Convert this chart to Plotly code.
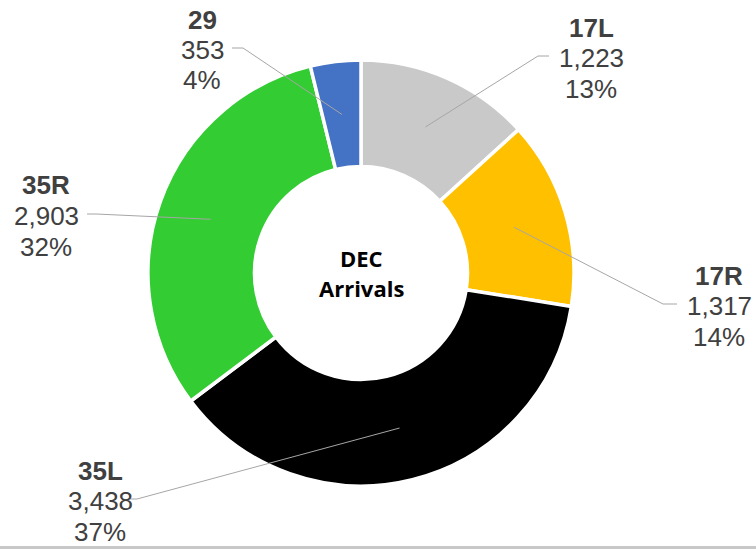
import math
import plotly.graph_objects as go

# ---- data ----
runways = ["17L", "17R", "35L", "35R", "29"]
arrivals = [1223, 1317, 3438, 2903, 353]
value_labels = ["1,223", "1,317", "3,438", "2,903", "353"]
pct_labels = ["13%", "14%", "37%", "32%", "4%"]
colors = ["#c9c9c9", "#ffc000", "#000000", "#33cc33", "#4472c4"]
center_title = ["DEC", "Arrivals"]

# ---- layout geometry (pixels) ----
W, H = 756, 549
CX, CY = 361, 273
R_OUT = 213
HOLE = 0.5
R_IN = R_OUT * HOLE
# label block centre (x, middle line y), leader start x, elbow x
label_pos = {
    "17L": (591, 58, 549, 538),
    "17R": (719, 306, 677, 663),
    "35L": (100, 501, 128, 137),
    "35R": (46, 216, 87, 96),
    "29": (202, 50, 232, 243),
}
LINE_GAP = 30.5


def px(x):
    return x / W


def py(y):
    return 1 - y / H


fig = go.Figure()
fig.add_trace(go.Pie(
    labels=runways,
    values=arrivals,
    marker=dict(colors=colors, line=dict(color="white", width=3.5)),
    hole=HOLE,
    sort=False,
    direction="clockwise",
    rotation=0,
    textinfo="none",
    showlegend=False,
    domain=dict(x=[px(CX - R_OUT), px(CX + R_OUT)],
                y=[py(CY + R_OUT), py(CY - R_OUT)]),
))

total = sum(arrivals)
cum = 0
shapes = []
annotations = []
label_font = dict(family="Liberation Sans, Arial, sans-serif", size=26, color="#404040")
for name, v, vl, pl in zip(runways, arrivals, value_labels, pct_labels):
    theta = 2 * math.pi * (cum + v / 2) / total
    cum += v
    r = (R_OUT + R_IN) / 2
    ax_ = CX + r * math.sin(theta)
    ay_ = CY - r * math.cos(theta)
    lx, ly, sx, ex = label_pos[name]
    lyl = ly - 2
    path = f"M {px(sx)} {py(lyl)} L {px(ex)} {py(lyl)} L {px(ax_)} {py(ay_)}"
    shapes.append(dict(type="path", path=path, xref="paper", yref="paper",
                       line=dict(color="#a6a6a6", width=1), layer="above"))
    for i, (txt, bold) in enumerate([(name, True), (vl, False), (pl, False)]):
        annotations.append(dict(
            x=px(lx), y=py(ly + (i - 1) * LINE_GAP), xref="paper", yref="paper",
            text=f"<b>{txt}</b>" if bold else txt, showarrow=False,
            xanchor="center", yanchor="middle", font=label_font))

for i, t in enumerate(center_title):
    annotations.append(dict(
        x=px(CX), y=py(258 + i * 30), xref="paper", yref="paper",
        text=f"<b>{t}</b>", showarrow=False, xanchor="center", yanchor="middle",
        font=dict(family="Open Sans, sans-serif", size=22, color="#000000")))

# bottom grey rule
shapes.append(dict(type="rect", xref="paper", yref="paper",
                   x0=0, x1=1, y0=0, y1=py(546), fillcolor="#c8c8c8",
                   line=dict(width=0), layer="above"))

fig.update_layout(
    width=W, height=H,
    margin=dict(l=0, r=0, t=0, b=0),
    paper_bgcolor="white", plot_bgcolor="white",
    shapes=shapes, annotations=annotations,
)
fig.write_html(
    "out.html",
    config={"displayModeBar": False},
    post_script="document.body.style.margin='0';document.body.style.padding='0';",
)
